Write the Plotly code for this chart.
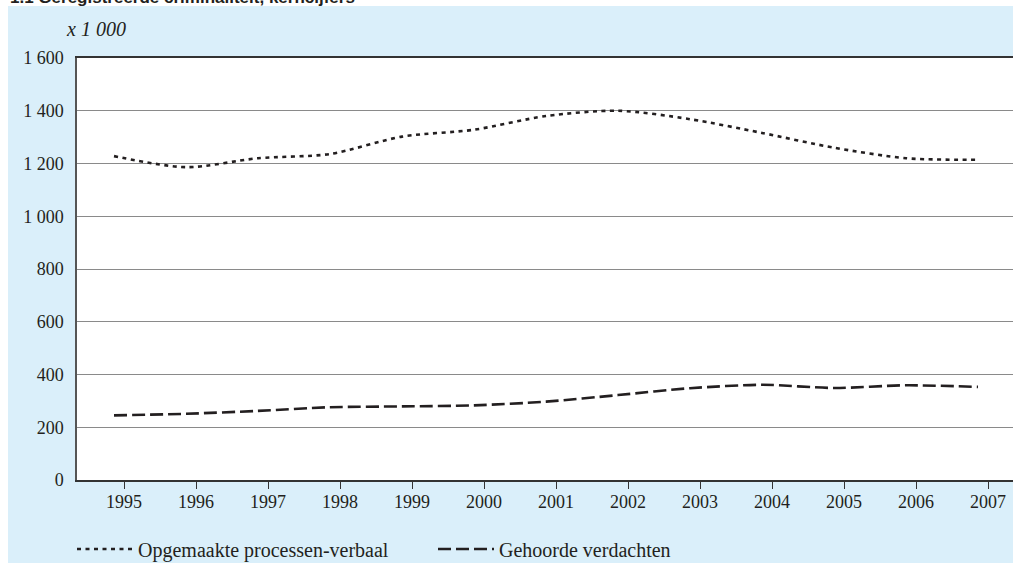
import plotly.graph_objects as go

years = [1995, 1996, 1997, 1998, 1999, 2000, 2001, 2002, 2003, 2004, 2005, 2006, 2007]
processen_verbaal = [1228, 1186, 1220, 1236, 1302, 1328, 1380, 1400, 1368, 1316, 1260, 1220, 1214]
gehoorde_verdachten = [245, 251, 262, 276, 279, 283, 297, 322, 348, 361, 349, 359, 353]
y_ticks = [0, 200, 400, 600, 800, 1000, 1200, 1400, 1600]
series_names = ["Opgemaakte processen-verbaal", "Gehoorde verdachten"]
title_text = "1.1 Geregistreerde criminaliteit, kerncijfers"
unit_text = "x 1 000"

W, H = 1013, 563
L, R, T, B = 77, 0, 58, 83
plot_w = W - L - R
plot_h = H - T - B
px_per_year = 72.0
first_px = 114 - L          # pixel offset of first data point inside plot
tick_shift = 10 / px_per_year

x0 = years[0] - first_px / px_per_year
x1 = x0 + plot_w / px_per_year

serif = "Liberation Serif"
ink = "#231f20"
panel = "#daeffa"

fig = go.Figure()
fig.add_trace(go.Scatter(
    x=years, y=processen_verbaal, mode="lines", name=series_names[0],
    line=dict(color=ink, width=2.6, dash="4px,4.5px", shape="spline", smoothing=0.8),
))
fig.add_trace(go.Scatter(
    x=years, y=gehoorde_verdachten, mode="lines", name=series_names[1],
    line=dict(color=ink, width=2.6, dash="13px,5px", shape="spline", smoothing=0.8),
))


def px_x(p):
    return (p - L) / plot_w


def px_y(p):
    return 1 - (p - T) / plot_h


fig.update_layout(
    width=W, height=H,
    margin=dict(l=L, r=R, t=T, b=B, pad=0, autoexpand=False),
    paper_bgcolor=panel,
    plot_bgcolor="white",
    separators=", ",
    font=dict(family=serif, size=18, color=ink),
    showlegend=True,
    legend=dict(
        orientation="h", x=px_x(72), xanchor="left",
        y=px_y(549), yanchor="middle",
        bgcolor="rgba(0,0,0,0)", font=dict(family=serif, size=20, color=ink),
        itemwidth=56, entrywidth=290, entrywidthmode="pixels", tracegroupgap=0,
    ),
    xaxis=dict(
        range=[x0, x1], tickmode="array",
        tickvals=[y + tick_shift for y in years], ticktext=[str(y) for y in years],
        ticks="outside", ticklen=7, tickwidth=1.3, tickcolor="#333333",
        showline=True, linecolor="#333333", linewidth=1.8, mirror=True,
        showgrid=False, zeroline=False, fixedrange=True, automargin=False,
        ticklabelstandoff=-3,
        tickfont=dict(family=serif, size=18, color=ink),
    ),
    yaxis=dict(
        range=[0, 1600], tickmode="array", tickvals=y_ticks, tickformat=",d",
        ticks="", showline=True, linecolor="#555555", linewidth=1.5,
        showgrid=True, gridcolor="#8a8a8a", gridwidth=1.3,
        zeroline=False, fixedrange=True, ticklabelstandoff=8, automargin=False,
        tickfont=dict(family=serif, size=18, color=ink),
    ),
    shapes=[
        dict(type="rect", xref="paper", yref="paper", layer="below",
             x0=px_x(0), x1=px_x(W), y0=px_y(6), y1=px_y(0),
             fillcolor="white", line=dict(width=0)),
        dict(type="rect", xref="paper", yref="paper", layer="below",
             x0=px_x(0), x1=px_x(8), y0=px_y(H), y1=px_y(0),
             fillcolor="white", line=dict(width=0)),
    ],
    annotations=[
        dict(text="<i>" + unit_text + "</i>", xref="paper", yref="paper",
             x=px_x(64), xanchor="left", y=px_y(29), yanchor="middle",
             showarrow=False, font=dict(family=serif, size=20, color=ink)),
        dict(text="<b>" + title_text + "</b>", xref="paper", yref="paper",
             x=px_x(8), xanchor="left", y=px_y(9), yanchor="bottom",
             showarrow=False, font=dict(family="Liberation Sans", size=17, color=ink)),
    ],
)

fig.write_html(
    "out.html",
    config={"displayModeBar": False},
    post_script="document.body.style.margin='0';document.body.style.overflow='hidden';",
)
